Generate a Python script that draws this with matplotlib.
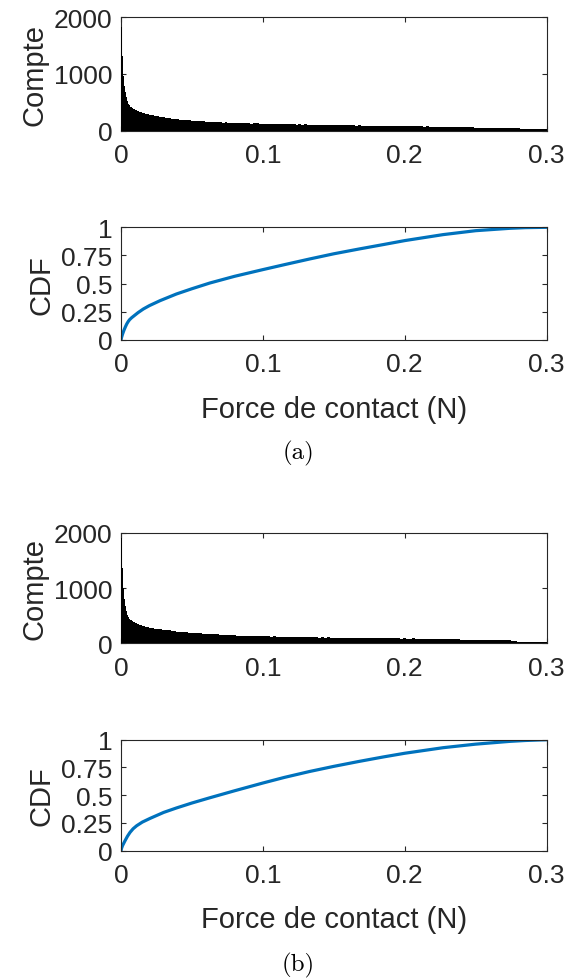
import numpy as np
import matplotlib
matplotlib.use('Agg')
import matplotlib.pyplot as plt

plt.rcParams['font.family'] = ['Liberation Sans', 'DejaVu Sans']

# histogram counts, fine bins (0.0007 wide) from 0 to 0.021
hist_a_fine = [1818, 1320, 968, 792, 674, 586, 516, 469, 445, 425,
               412, 398, 388, 379, 368, 360, 351, 344, 337, 331,
               325, 318, 313, 306, 301, 296, 290, 285, 279, 273]
# coarse bins (0.002 wide) from 0.021 onward
hist_a_coarse = [268, 259, 252, 246, 236, 229, 220, 213, 207, 199, 196, 188, 185, 180, 176,
                 171, 168, 162, 164, 156, 153, 155, 148, 150, 144, 141, 146, 139, 136, 140,
                 133, 131, 135, 128, 130, 125, 127, 131, 122, 124,
                 120, 126, 117, 119, 115, 121, 112, 114, 117, 110, 113, 108, 111, 106, 109,
                 104, 108, 102, 105, 101, 104, 99, 102, 97, 100,
                 98, 95, 99, 94, 96, 92, 95, 90, 93, 89, 91, 87, 90, 86, 88,
                 84, 87, 83, 85, 81, 84, 80, 82, 79, 81,
                 78, 80, 76, 77, 74, 76, 72, 74, 70, 72, 69, 70, 66, 68, 64,
                 66, 62, 64, 60, 61, 58, 60, 56, 57, 54,
                 55, 52, 53, 50, 51, 48, 49, 46, 47, 44, 45, 42, 43, 40, 41,
                 38, 36, 37, 33, 30, 31, 27, 26, 24, 22]

hist_b_fine = [1900, 1370, 1010, 800, 680, 590, 510, 470, 445, 428,
               414, 402, 390, 380, 370, 361, 353, 346, 339, 332,
               326, 320, 314, 309, 304, 299, 294, 289, 284, 279]
hist_b_coarse = [272, 266, 258, 252, 246, 240, 233, 226, 218, 212, 207, 203, 198, 195, 192,
                 188, 184, 178, 175, 170, 172, 164, 160, 162, 155, 151, 154, 147, 145, 148,
                 141, 139, 136, 140, 133, 131, 134, 128, 130, 126,
                 128, 124, 121, 125, 119, 116, 120, 114, 117, 112, 115, 110, 113, 109, 111,
                 107, 110, 106, 108, 104, 107, 103, 105, 102, 104,
                 101, 103, 100, 98, 101, 97, 99, 96, 98, 94, 97, 93, 95, 92, 94,
                 91, 93, 89, 92, 88, 90, 87, 89, 85, 88,
                 86, 84, 87, 82, 84, 80, 82, 78, 80, 77, 78, 75, 76, 73, 74,
                 71, 72, 69, 70, 67, 68, 66, 67, 64, 65,
                 62, 63, 60, 61, 58, 59, 56, 57, 54, 55, 52, 53, 50, 49, 30,
                 29, 31, 28, 30, 27, 29, 28, 26, 27, 25]

cdf_a_x = [0, 0.0003, 0.001, 0.002, 0.003, 0.004, 0.005, 0.006, 0.0075, 0.0087, 0.012,
           0.0157, 0.02, 0.0275, 0.039, 0.05, 0.0627, 0.08, 0.0998, 0.115, 0.133, 0.15,
           0.168, 0.185, 0.2, 0.227, 0.25, 0.274, 0.285, 0.3]
cdf_a_y = [0, 0.02, 0.05, 0.085, 0.115, 0.142, 0.163, 0.18, 0.198, 0.21, 0.243,
           0.275, 0.305, 0.349, 0.408, 0.455, 0.506, 0.565, 0.624, 0.668, 0.719, 0.765,
           0.808, 0.847, 0.882, 0.935, 0.970, 0.991, 0.997, 1.0]

cdf_b_x = [0, 0.0003, 0.001, 0.002, 0.0028, 0.0045, 0.0063, 0.0085, 0.011, 0.015, 0.0204,
           0.03, 0.039, 0.05, 0.0623, 0.08, 0.1, 0.115, 0.133, 0.15, 0.168, 0.185, 0.2,
           0.227, 0.25, 0.274, 0.285, 0.3]
cdf_b_y = [0, 0.02, 0.045, 0.07, 0.09, 0.13, 0.165, 0.198, 0.225, 0.258, 0.291,
           0.345, 0.385, 0.43, 0.476, 0.54, 0.61, 0.66, 0.714, 0.76, 0.805, 0.845, 0.878,
           0.928, 0.96, 0.985, 0.993, 1.0]

xticks = [0, 0.1, 0.2, 0.3]
xticklabels = ['0', '0.1', '0.2', '0.3']
hist_yticks = [0, 1000, 2000]
cdf_yticks = [0, 0.25, 0.5, 0.75, 1]
cdf_yticklabels = ['0', '0.25', '0.5', '0.75', '1']

fine_w = 0.0007
coarse_w = 0.002
dark = '#262626'
blue = '#0072BD'
tick_fs = 19
label_fs = 21

fig = plt.figure(figsize=(5.67, 9.79), dpi=100)


def style(ax, spine_z):
    for s in ax.spines.values():
        s.set_color(dark)
        s.set_linewidth(0.8)
        s.set_zorder(spine_z)
    ax.tick_params(direction='in', top=True, right=True, length=3.5, width=0.8,
                   colors=dark, labelsize=tick_fs)
    ax.tick_params(axis='x', pad=9)
    ax.tick_params(axis='y', pad=6)
    ax.set_xlim(0, 0.3)
    ax.set_xticks(xticks)
    ax.set_xticklabels(xticklabels)


def draw_hist(rect, fine, coarse):
    ax = fig.add_axes(rect)
    edges_fine = np.arange(len(fine)) * fine_w
    edges_coarse = len(fine) * fine_w + np.arange(len(coarse) + 1) * coarse_w
    edges = np.concatenate([edges_fine, edges_coarse])
    counts = np.concatenate([fine, coarse])
    ax.stairs(counts, edges, fill=True, color='k', linewidth=0, zorder=2, antialiased=False)
    ax.set_ylim(0, 2000)
    ax.set_yticks(hist_yticks)
    ax.set_ylabel('Compte', fontsize=label_fs, color=dark, labelpad=4)
    style(ax, 0.5)
    return ax


def draw_cdf(rect, x, y):
    ax = fig.add_axes(rect)
    ax.plot(x, y, color=blue, lw=2.3, solid_capstyle='round', solid_joinstyle='round')
    ax.set_ylim(0, 1)
    ax.set_yticks(cdf_yticks)
    ax.set_yticklabels(cdf_yticklabels)
    ax.set_ylabel('CDF', fontsize=label_fs, color=dark, labelpad=4)
    ax.set_xlabel('Force de contact (N)', fontsize=label_fs, color=dark, labelpad=13)
    style(ax, 5)
    return ax


draw_hist([0.2135, 0.8655, 0.7505, 0.1161], hist_a_fine, hist_a_coarse)
draw_cdf([0.2135, 0.6517, 0.7505, 0.1151], cdf_a_x, cdf_a_y)
draw_hist([0.2135, 0.3419, 0.7505, 0.1127], hist_b_fine, hist_b_coarse)
draw_cdf([0.2135, 0.1300, 0.7505, 0.1134], cdf_b_x, cdf_b_y)

fig.text(0.526, 1 - 453 / 979, '(a)', fontsize=18, family='cmr10', ha='center', va='center')
fig.text(0.526, 1 - 965 / 979, '(b)', fontsize=18, family='cmr10', ha='center', va='center')

fig.savefig('out.png', dpi=100)
